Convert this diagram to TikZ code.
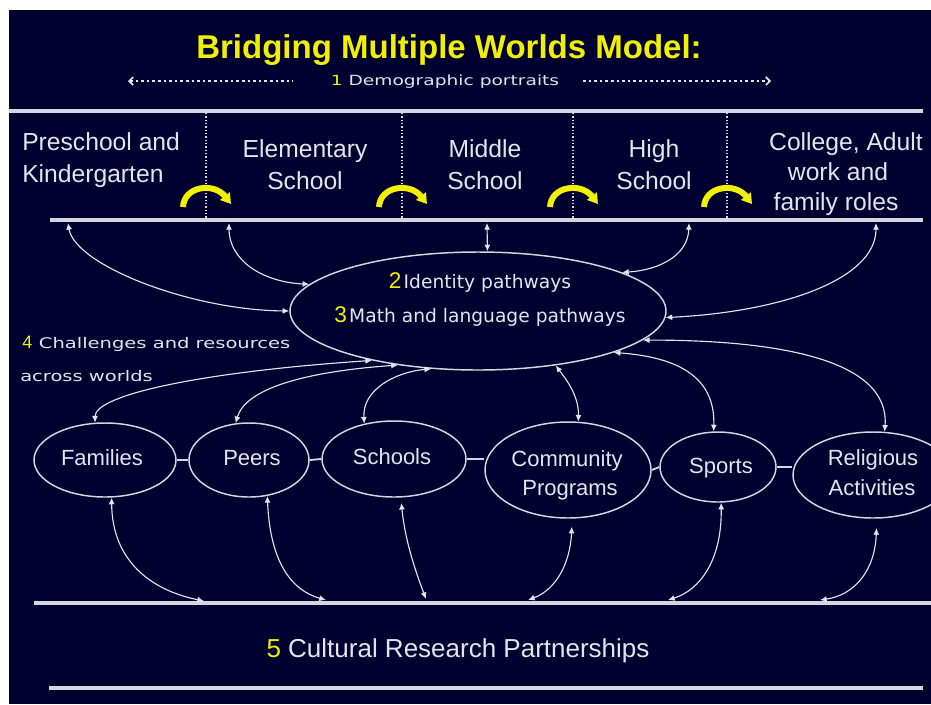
\documentclass[tikz,border=0pt]{standalone}
\usepackage{fontspec}
\setmainfont{Liberation Sans}
\newfontfamily\widefont[FakeStretch=1.33]{DejaVu Sans}
\newfontfamily\dvfont{DejaVu Sans}
\usetikzlibrary{shapes.geometric,arrows.meta}
\definecolor{navy}{RGB}{0,0,48}
\definecolor{ink}{RGB}{228,228,236}
\definecolor{rule}{RGB}{214,214,224}
\definecolor{gold}{RGB}{240,240,0}

\begin{document}
\begin{tikzpicture}[x=0.75pt,y=-0.75pt,
  bar/.style={draw=rule,line width=2.3pt},
  sep/.style={draw=rule,line width=0.8pt,dash pattern=on 1pt off 1.5pt},
  world/.style={ellipse,draw=rule,line width=1.1pt,inner sep=0pt},
  tie/.style={draw=rule,line width=1.4pt},
  link/.style={draw=ink,line width=0.85pt,{Latex[length=5pt,width=4.5pt]}-{Latex[length=5pt,width=4.5pt]}},
  stage/.style={text=ink,font=\fontsize{18.5pt}{22pt}\selectfont,anchor=base,inner sep=0pt},
  place/.style={text=ink,font=\fontsize{16.5pt}{20pt}\selectfont,anchor=base,inner sep=0pt},
  small/.style={text=ink,font=\widefont\fontsize{11pt}{13pt}\selectfont,anchor=base west,inner sep=0pt},
  turn/.style={draw=gold,line width=4.5pt,-{Triangle[length=7.5pt,width=9pt]}},
  hint/.style={draw=ink,line width=1.2pt,dash pattern=on 2pt off 2.2pt},
]
% canvas
\path[use as bounding box] (0,0) rectangle (931,704);
\fill[white] (0,0) rectangle (931,704);
\fill[navy] (9,10) rectangle (931,704);

% heading
\node[text=gold,font=\fontsize{24.75pt}{30pt}\selectfont\bfseries,anchor=base,inner sep=0pt] (title) at (449,58) {Bridging Multiple Worlds Model:};
\node[text=ink,font=\widefont\fontsize{10.5pt}{12pt}\selectfont,anchor=base,inner sep=0pt] (demo) at (445,85) {\textcolor{gold}{1} Demographic portraits};
\coordinate (dl1) at (128,81);
\coordinate (dl2) at (293,81);
\coordinate (dr1) at (583,81);
\coordinate (dr2) at (771,81);
\draw[hint,{Straight Barb[length=3pt,width=6pt]}-] (dl1) -- (dl2);
\draw[hint,-{Straight Barb[length=3pt,width=6pt]}] (dr1) -- (dr2);

% stage separators and transitions
\foreach \d in {206,402,573,727} {
  \draw[sep] (\d,113) -- (\d,219);
}
\foreach \d in {206,402,573,727} {
  \draw[turn] (\d-23,207) .. controls (\d-22,186) and (\d+8,182) .. (\d+25,204);
}

% horizontal rules
\coordinate (ta) at (9,111);
\coordinate (tb) at (923,111);
\coordinate (ma) at (50,220);
\coordinate (mb) at (923,220);
\coordinate (ba) at (34,603);
\coordinate (bb) at (931,603);
\coordinate (ca) at (49,688);
\coordinate (cb) at (923,688);
\draw[bar] (ta) -- (tb);
\draw[bar] (ma) -- (mb);
\draw[bar] (ba) -- (bb);
\draw[bar] (ca) -- (cb);

% stages
\node[stage,anchor=base west] (pre1) at (22,150) {Preschool and};
\node[stage,anchor=base west] (pre2) at (22,182) {Kindergarten};
\node[stage] (ele1) at (305,157) {Elementary};
\node[stage] (ele2) at (305,189) {School};
\node[stage] (mid1) at (485,157) {Middle};
\node[stage] (mid2) at (485,189) {School};
\node[stage] (hig1) at (654,157) {High};
\node[stage] (hig2) at (654,189) {School};
\node[stage] (col1) at (846,150) {College, Adult};
\node[stage] (col2) at (838,180) {work and};
\node[stage] (col3) at (836,210) {family roles};

% central pathways
\node[world,minimum width=282pt,minimum height=88.5pt] (mid) at (478,311) {};
\node[text=ink,anchor=base,inner sep=0pt] (idp) at (480,288)
  {\textcolor{gold}{\fontsize{17pt}{20pt}\selectfont 2}\,{\dvfont\fontsize{14pt}{17pt}\selectfont Identity pathways}};
\node[text=ink,anchor=base,inner sep=0pt] (mlp) at (480,322)
  {\textcolor{gold}{\fontsize{17pt}{20pt}\selectfont 3}\,{\dvfont\fontsize{14pt}{17pt}\selectfont Math and language pathways}};

% challenges label
\node[small] (chal) at (22,348) {\textcolor{gold}{\normalfont\fontsize{13.5pt}{16pt}\selectfont 4}\hspace{5pt}Challenges and resources};
\node[small] (acr) at (20,381) {across worlds};

% worlds
\node[world,minimum width=106.5pt,minimum height=55.5pt] (fam) at (105,460) {};
\node[world,minimum width=90pt,minimum height=55.5pt] (peers) at (249,460) {};
\node[world,minimum width=108pt,minimum height=57pt] (schools) at (394,459) {};
\node[world,minimum width=124.5pt,minimum height=72pt] (comm) at (568,470) {};
\node[world,minimum width=87pt,minimum height=52.5pt] (sports) at (718,467) {};
\node[world,minimum width=120pt,minimum height=64.5pt] (relig) at (873,475) {};

\node[place] (famt) at (102,465) {Families};
\node[place] (peert) at (252,465) {Peers};
\node[place] (scht) at (392,464) {Schools};
\node[place] (comt1) at (567,466) {Community};
\node[place] (comt2) at (570,495) {Programs};
\node[place] (spot) at (721,473) {Sports};
\node[place] (relt1) at (873,465) {Religious};
\node[place] (relt2) at (872,495) {Activities};

\draw[tie] (fam.east) -- (peers.west);
\draw[tie] (peers.east) -- (schools.west);
\draw[tie] (schools.east) -- (schools.east -| comm.west);
\draw[tie] (comm.east) -- (sports.west);
\draw[tie] (sports.east) -- (sports.east -| relig.west);

% stage rule to pathways
\coordinate (t1) at (68,223);
\coordinate (t2) at (229,223);
\coordinate (t3) at (487,223);
\coordinate (t4) at (689,223);
\coordinate (t5) at (876,223);
\draw[link] (t1) .. controls (75,265) and (190,310) .. (mid.180);
\draw[link] (t2) .. controls (229,260) and (262,282) .. (mid.171);
\draw[link] (t3) -- (mid.81);
\draw[link] (t4) .. controls (688,255) and (660,270) .. (mid.15);
\draw[link] (t5) .. controls (876,280) and (780,312) .. (mid.-2);

% worlds to pathways
\draw[link] (fam.105) .. controls (95,395) and (200,372) .. (mid.205);
\draw[link] (peers.110) .. controls (245,390) and (300,372) .. (mid.214);
\draw[link] (schools.130) .. controls (362,390) and (395,372) .. (mid.231);
\draw[link] (comm.78) .. controls (579,395) and (565,378) .. (mid.-35);
\draw[link] (sports.97) .. controls (715,385) and (690,358) .. (mid.-17);
\draw[link] (relig.75) .. controls (890,360) and (780,340) .. (mid.-10);

% worlds to partnerships
\coordinate (b1) at (204,601);
\coordinate (b2) at (326,600);
\coordinate (b3) at (426,599);
\coordinate (b4) at (528,600);
\coordinate (b5) at (668,600);
\coordinate (b6) at (820,600);
\draw[link] (fam.-80) .. controls (112,560) and (150,590) .. (b1);
\draw[link] (peers.-63) .. controls (270,560) and (290,590) .. (b2);
\draw[link,shorten <=4pt] (schools.-80) .. controls (405,540) and (415,570) .. (b3);
\draw[link,shorten <=6pt] (comm.-85) .. controls (570,565) and (555,590) .. (b4);
\draw[link] (sports.-85) .. controls (722,560) and (700,590) .. (b5);
\draw[link,shorten <=7pt] (relig.-85) .. controls (875,570) and (855,595) .. (b6);

% partnerships
\node[text=ink,font=\fontsize{19.5pt}{24pt}\selectfont,anchor=base,inner sep=0pt] (crp) at (458,657)
  {\textcolor{gold}{5} Cultural Research Partnerships};
\end{tikzpicture}
\end{document}
